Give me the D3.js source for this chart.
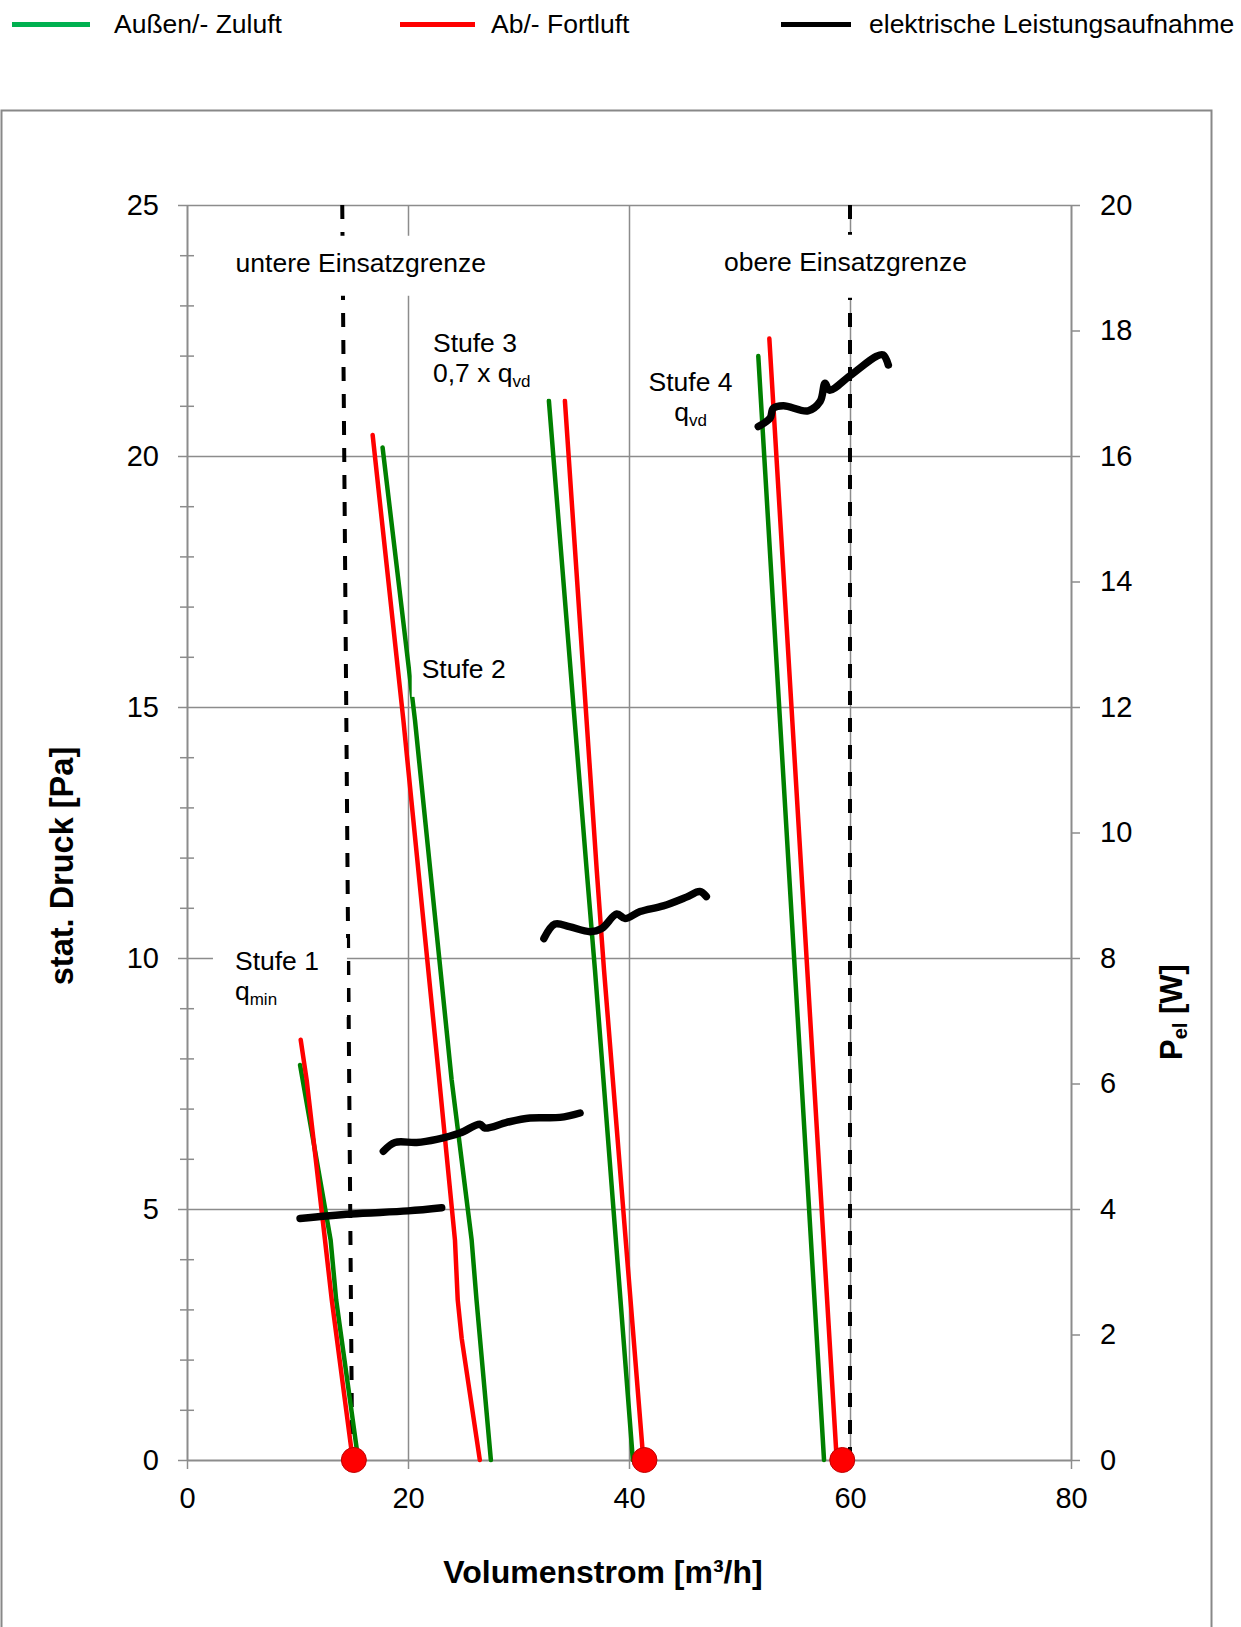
<!DOCTYPE html>
<html lang="de">
<head>
<meta charset="utf-8">
<title>Kennlinien Volumenstrom / Druck</title>
<script src="https://cdn.jsdelivr.net/npm/d3@7"></script>
<style>
  body { margin: 0; background: #fff; }
  svg { display: block; font-family: 'Liberation Sans', Arial, sans-serif; }
</style>
</head>
<body>
<div id="chart"></div>
<script>
/* global d3 */

// Axis ticks
const X_TICKS = [0, 20, 40, 60, 80];
const P_TICKS = [0, 5, 10, 15, 20, 25];
const P_MINOR = [1, 2, 3, 4, 6, 7, 8, 9, 11, 12, 13, 14, 16, 17, 18, 19, 21, 22, 23, 24];
const W_TICKS = [0, 2, 4, 6, 8, 10, 12, 14, 16, 18, 20];

// Kennlinien [Volumenstrom m³/h, stat. Druck Pa]
const supplyStufe1 = [[10.23, 7.87], [13.0, 4.38], [13.5, 3.19], [15.5, 0]];
const exhaustStufe1 = [[10.29, 8.37], [10.83, 7.57], [12.49, 4.38], [13.1, 3.19], [15.0, 0]];
const supplyStufe2 = [[17.7, 20.17], [20.63, 14.74], [23.95, 7.57], [25.76, 4.38], [26.2, 3.19], [27.5, 0]];
const exhaustStufe2 = [[16.8, 20.42], [19.58, 14.74], [22.83, 7.57], [24.25, 4.38], [24.5, 3.19], [24.86, 2.42], [26.5, 0]];
const supplyStufe3 = [[32.75, 21.1], [36.17, 11.75], [36.92, 9.76], [40.35, 0]];
const exhaustStufe3 = [[34.2, 21.1], [37.08, 11.75], [37.74, 9.76], [41.3, 0]];
const supplyStufe4 = [[51.7, 21.99], [57.65, 0]];
const exhaustStufe4 = [[52.7, 22.34], [58.8, 0]];

// elektrische Leistungsaufnahme [Volumenstrom m³/h, P_el W]
const powerStufe1 = [[10.23, 3.85], [14.84, 3.92], [20.0, 3.97], [23.05, 4.02]];
const powerStufe2 = [[17.77, 4.92], [18.82, 5.06], [20.78, 5.06], [22.6, 5.11], [24.7, 5.21], [26.5, 5.35],
  [26.97, 5.29], [28.93, 5.38], [31.04, 5.45], [33.76, 5.46], [35.57, 5.53]];
const powerStufe3 = [[32.3, 8.31], [33.3, 8.54], [34.6, 8.5], [36.47, 8.42], [37.53, 8.47], [38.89, 8.7],
  [39.64, 8.63], [41.0, 8.74], [43.1, 8.83], [45.2, 8.97], [46.4, 9.06], [47.0, 8.98]];
const powerStufe4 = [[51.7, 16.47], [52.76, 16.6], [53.06, 16.76], [53.97, 16.8], [56.2, 16.72], [57.3, 16.87],
  [57.74, 17.16], [58.13, 17.05], [60.0, 17.28], [62.4, 17.59], [63.0, 17.61], [63.47, 17.45]];

// Einsatzgrenzen and Nennpunkte
const lowerLimit = [[14.05, 25], [14.95, 0]];
const upperLimit = [[60, 25], [60, 0]];
const nominalFlows = [15.1, 41.4, 59.3];

const SUPPLY = [supplyStufe1, supplyStufe2, supplyStufe3, supplyStufe4];
const EXHAUST = [exhaustStufe1, exhaustStufe2, exhaustStufe3, exhaustStufe4];
const POWER = [powerStufe1, powerStufe2, powerStufe3, powerStufe4];

const LEGEND_LABELS = ['Außen/- Zuluft', 'Ab/- Fortluft', 'elektrische Leistungsaufnahme'];

const COLOURS = { supply: '#008000', supplyKey: '#00b050', exhaust: '#ff0000', power: '#000000', grid: '#8c8c8c' };

const width = 1241;
const height = 1627;
const margin = { top: 205, left: 187 };
const plotWidth = 884;
const plotHeight = 1255;

const svg = d3.select('#chart').append('svg').attr('width', width).attr('height', height);

// chart frame
svg.append('rect')
  .attr('x', 1.5).attr('y', 110.5).attr('width', 1210).attr('height', 1560)
  .attr('fill', 'none').attr('stroke', '#888').attr('stroke-width', 2);

// legend
const legendItems = [
  { label: LEGEND_LABELS[0], colour: COLOURS.supplyKey, x1: 12, x2: 90, tx: 114 },
  { label: LEGEND_LABELS[1], colour: COLOURS.exhaust, x1: 400, x2: 475, tx: 491 },
  { label: LEGEND_LABELS[2], colour: COLOURS.power, x1: 781, x2: 851, tx: 869 }
];
const legend = svg.append('g');
legendItems.forEach((item) => {
  legend.append('line')
    .attr('x1', item.x1).attr('x2', item.x2).attr('y1', 24.5).attr('y2', 24.5)
    .attr('stroke', item.colour).attr('stroke-width', 5);
  legend.append('text')
    .attr('x', item.tx).attr('y', 33)
    .attr('font-size', 26.5)
    .text(item.label);
});

const g = svg.append('g').attr('transform', `translate(${margin.left},${margin.top})`);

const x = d3.scaleLinear().domain([0, 80]).range([0, plotWidth]);
const y = d3.scaleLinear().domain([0, 25]).range([plotHeight, 0]);
const yW = d3.scaleLinear().domain([0, 20]).range([plotHeight, 0]);

// gridlines
g.append('g')
  .call(d3.axisBottom(x).tickValues([20, 40, 60]).tickSize(plotHeight).tickFormat(''))
  .call((s) => s.select('.domain').remove())
  .selectAll('line').attr('stroke', COLOURS.grid).attr('stroke-width', 1.5);

g.append('g')
  .call(d3.axisLeft(y).tickValues([5, 10, 15, 20, 25]).tickSize(-plotWidth).tickFormat(''))
  .call((s) => s.select('.domain').remove())
  .selectAll('line').attr('stroke', COLOURS.grid).attr('stroke-width', 1.5);

// left axis: minor ticks cross the axis line
[7, -7].forEach((size) => {
  g.append('g')
    .call(d3.axisLeft(y).tickValues(P_MINOR).tickSize(size).tickFormat(''))
    .call((s) => s.select('.domain').remove())
    .selectAll('line').attr('stroke', COLOURS.grid).attr('stroke-width', 1.5);
});

function styleAxis(s) {
  s.select('.domain').attr('stroke', COLOURS.grid).attr('stroke-width', 2);
  s.selectAll('.tick line').attr('stroke', COLOURS.grid).attr('stroke-width', 1.5);
  s.selectAll('.tick text').attr('font-size', 29).attr('fill', '#000')
    .attr('font-family', "'Liberation Sans', Arial, sans-serif");
}

g.append('g')
  .call(d3.axisLeft(y).tickValues(P_TICKS).tickSize(9).tickSizeOuter(0).tickPadding(19))
  .call(styleAxis);

g.append('g')
  .attr('transform', `translate(${plotWidth},0)`)
  .call(d3.axisRight(yW).tickValues(W_TICKS).tickSize(9).tickSizeOuter(0).tickPadding(20))
  .call(styleAxis);

g.append('g')
  .attr('transform', `translate(0,${plotHeight})`)
  .call(d3.axisBottom(x).tickValues(X_TICKS).tickSize(9).tickSizeOuter(0).tickPadding(18))
  .call(styleAxis);

// axis titles
svg.append('text')
  .attr('transform', 'translate(73,866) rotate(-90)')
  .attr('text-anchor', 'middle').attr('font-size', 32.5).attr('font-weight', 'bold')
  .text('stat. Druck [Pa]');

const wTitle = svg.append('text')
  .attr('transform', 'translate(1182,1012) rotate(-90)')
  .attr('text-anchor', 'middle').attr('font-size', 31).attr('font-weight', 'bold');
wTitle.append('tspan').text('P');
wTitle.append('tspan').attr('font-size', 20).attr('dy', 5).text('el');
wTitle.append('tspan').attr('dy', -5).text(' [W]');

svg.append('text')
  .attr('x', 603).attr('y', 1583)
  .attr('text-anchor', 'middle').attr('font-size', 32).attr('font-weight', 'bold')
  .text('Volumenstrom [m³/h]');

// Einsatzgrenzen
const limitLine = d3.line().x((d) => x(d[0])).y((d) => y(d[1]));
[lowerLimit, upperLimit].forEach((limit) => {
  g.append('path')
    .datum(limit)
    .attr('d', limitLine)
    .attr('fill', 'none')
    .attr('stroke', '#000')
    .attr('stroke-width', 4)
    .attr('stroke-dasharray', '14,13');
});

// Kennlinien
const airLine = d3.line().x((d) => x(d[0])).y((d) => y(d[1]));
const powerLine = d3.line().x((d) => x(d[0])).y((d) => yW(d[1])).curve(d3.curveCatmullRom.alpha(0.5));

SUPPLY.forEach((series) => {
  g.append('path').datum(series).attr('d', airLine)
    .attr('fill', 'none').attr('stroke', COLOURS.supply).attr('stroke-width', 4.5)
    .attr('stroke-linecap', 'round').attr('stroke-linejoin', 'round');
});
EXHAUST.forEach((series) => {
  g.append('path').datum(series).attr('d', airLine)
    .attr('fill', 'none').attr('stroke', COLOURS.exhaust).attr('stroke-width', 4.5)
    .attr('stroke-linecap', 'round').attr('stroke-linejoin', 'round');
});
POWER.forEach((series) => {
  g.append('path').datum(series).attr('d', powerLine)
    .attr('fill', 'none').attr('stroke', COLOURS.power).attr('stroke-width', 7.5)
    .attr('stroke-linecap', 'round').attr('stroke-linejoin', 'round');
});

// text boxes (white fill, like the original)
const annotations = [
  { lines: [[['untere Einsatzgrenze']]], at: [4.4, 23.67], pad: [12, 10, 18, 10] },
  { lines: [[['obere Einsatzgrenze']]], at: [48.6, 23.69], pad: [12, 8, 21, 8] },
  { lines: [[['Stufe 3']], [['0,7 x q'], ['vd', true]]], at: [22.26, 22.08], pad: [10, 40, 8, 15] },
  { lines: [[['Stufe 4']], [['q'], ['vd', true]]], at: [45.57, 21.3], anchor: 'middle', pad: [8, 8, 8, 8] },
  { lines: [[['Stufe 2']]], at: [21.24, 15.58], pad: [14, 10, 13, 10] },
  { lines: [[['Stufe 1']], [['q'], ['min', true]]], at: [4.34, 9.76], pad: [8, 28, 8, 22] }
];

const labelLayer = g.append('g');
annotations.forEach((spec) => {
  const box = labelLayer.append('g');
  const rect = box.append('rect').attr('fill', '#fff');
  const text = box.append('text')
    .attr('font-size', 26.5)
    .attr('text-anchor', spec.anchor || 'start');
  spec.lines.forEach((line, i) => {
    const row = text.append('tspan')
      .attr('x', x(spec.at[0]))
      .attr('y', y(spec.at[1]) + i * 30);
    line.forEach(([t, sub]) => {
      if (sub) row.append('tspan').attr('font-size', 17).attr('dy', 5).text(t);
      else row.append('tspan').text(t);
    });
  });
  const bb = text.node().getBBox();
  const [pt, pr, pb, pl] = spec.pad;
  rect.attr('x', bb.x - pl).attr('y', bb.y - pt)
    .attr('width', bb.width + pl + pr).attr('height', bb.height + pt + pb);
});

// Nennpunkte
g.selectAll('circle.nominal')
  .data(nominalFlows)
  .join('circle')
  .attr('class', 'nominal')
  .attr('cx', (d) => x(d))
  .attr('cy', y(0))
  .attr('r', 12.5)
  .attr('fill', '#ff0000')
  .attr('stroke', '#c00000')
  .attr('stroke-width', 1);
</script>
</body>
</html>
